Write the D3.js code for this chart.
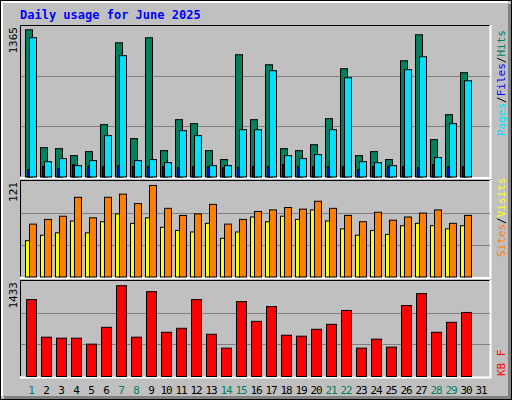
<!DOCTYPE html><html><head><meta charset="utf-8">
<script src="https://cdn.jsdelivr.net/npm/d3@7"></script>
<style>body{margin:0;background:#fff}</style></head><body><svg id="c" width="512" height="400"></svg>
<script>
const days=d3.range(1,32);
const weekend=[1,7,8,14,15,21,22,28,29];
const hits=[1335,266,257,194,230,475,1217,348,1263,239,520,484,239,158,1109,520,1018,257,239,293,529,982,194,230,158,1054,1290,339,565,946,0];
const files=[1263,139,167,103,149,375,1100,149,158,130,420,375,103,103,429,429,964,194,167,203,429,900,139,130,103,973,1091,176,484,873,0];
const pages=[67,94,78,112,94,94,103,94,94,94,85,94,94,85,85,94,94,112,94,94,94,94,67,94,94,94,85,112,94,94,0];
const visits=[67,73,77,101,75,101,105,93,116,87,78,80,92,67,73,83,85,88,86,96,87,78,70,82,72,76,81,85,68,78,0];
const sites=[46,53,56,71,56,70,80,68,75,63,59,57,68,49,57,76,70,77,73,85,71,61,53,59,54,65,68,65,61,65,0];
const kbytes=[1160,593,578,578,488,742,1369,593,1280,667,727,1160,637,428,1130,832,1056,623,608,712,787,996,428,563,443,1071,1250,667,817,966,0];
const maxHits=1365,maxVisits=121,maxKB=1433;

const svg=d3.select("#c");
svg.append("rect").attr("x",0).attr("y",0).attr("width",512).attr("height",400).attr("fill","#c0c0c0");
svg.append("rect").attr("x",508).attr("y",4).attr("width",4).attr("height",396).attr("fill","#808080");
svg.append("rect").attr("x",4).attr("y",396).attr("width",508).attr("height",4).attr("fill","#808080");
svg.append("polyline").attr("points","1.5,396 1.5,1.5 508,1.5").attr("fill","none").attr("stroke","#fff").attr("stroke-width",3);
svg.append("rect").attr("x",0.5).attr("y",0.5).attr("width",511).attr("height",399).attr("fill","none").attr("stroke","#000");
svg.append("text").attr("x",20).attr("y",19).text("Daily usage for June 2025")
 .attr("font-family","DejaVu Sans Mono").attr("font-weight","bold").attr("font-size",12).attr("fill","#0000ff");

const x=d3.scaleLinear().domain([1,32]).range([25,490]);
function panel(top,bottom,max,label){
  svg.append("rect").attr("x",20).attr("y",top).attr("width",470.5).attr("height",bottom-top).attr("fill","#c0c0c0");
  svg.append("polyline").attr("points",`20.5,${bottom} 20.5,${top+0.5} 490.5,${top+0.5}`).attr("fill","none").attr("stroke","#000");
  svg.append("polyline").attr("points",`490.5,${top} 490.5,${bottom+1.5} 20,${bottom+1.5}`).attr("fill","none").attr("stroke","#fff").attr("stroke-width",2);
  const y=d3.scaleLinear().domain([0,max]).range([bottom,top+1]);
  [max/3,2*max/3].forEach(v=>svg.append("line").attr("x1",21).attr("x2",490).attr("y1",Math.round(y(v))+0.5).attr("y2",Math.round(y(v))+0.5).attr("stroke","#808080"));
  svg.append("text").attr("transform",`translate(17,${top+2}) rotate(-90)`).attr("text-anchor","end")
   .attr("font-family","DejaVu Sans Mono").attr("font-size",11).attr("fill","#000").text(label);
  return y;
}
function bars(y,vals,off,w,color){
  svg.append("g").selectAll("rect").data(days.filter((d,i)=>vals[i]>0)).join("rect")
   .attr("x",d=>x(d)+off+0.5).attr("width",w).attr("y",d=>y(vals[d-1])+0.5).attr("height",d=>y(0)-y(vals[d-1]))
   .attr("fill",color).attr("stroke","#000");
}
const y1=panel(25,176.5,maxHits,String(maxHits));
bars(y1,hits,0,7,"#00805c");
bars(y1,files,4,7,"#00e0ff");
bars(y1,pages,2,2,"#0000ff");
const y2=panel(180,276.5,maxVisits,String(maxVisits));
bars(y2,visits,4,7,"#ff8000");
bars(y2,sites,0,4,"#ffff00");
const y3=panel(280,376,maxKB,String(maxKB));
bars(y3,kbytes,1,10,"#ff0000");

svg.append("g").selectAll("text").data(days).join("text")
 .attr("x",d=>x(d)+6).attr("y",394).attr("text-anchor","middle")
 .attr("font-family","DejaVu Sans Mono").attr("font-size",11).attr("letter-spacing",-1)
 .attr("fill",d=>weekend.includes(d)?"#00805c":"#000").text(d=>d);

function vlabel(yBottom,parts){
  const t=svg.append("text").attr("transform",`translate(505,${yBottom}) rotate(-90)`)
   .attr("font-family","DejaVu Sans Mono").attr("font-size",11);
  parts.forEach(p=>t.append("tspan").attr("fill",p[1]).text(p[0]));
}
vlabel(136,[["Pages","#00e0ff"],["/","#000"],["Files","#0000ff"],["/","#000"],["Hits","#00805c"]]);
vlabel(257,[["Sites","#ff8000"],["/","#000"],["Visits","#ffff00"]]);
vlabel(376,[["KB F","#ff0000"]]);
</script></body></html>
